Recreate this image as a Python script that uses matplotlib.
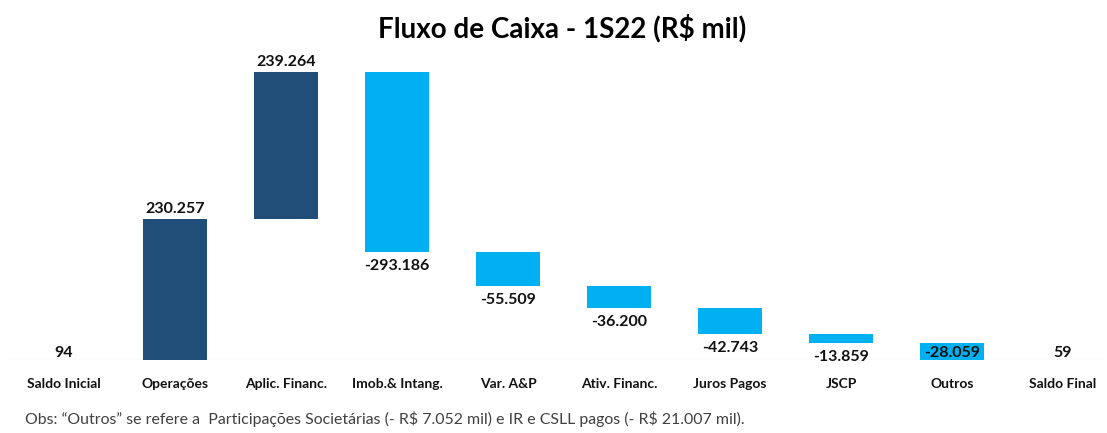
import matplotlib
matplotlib.use("Agg")
import matplotlib.pyplot as plt
import numpy as np

plt.rcParams['font.family'] = ['Lato', 'DejaVu Sans']

categorias = ['Saldo Inicial', 'Operações', 'Aplic. Financ.', 'Imob.& Intang.', 'Var. A&P',
              'Ativ. Financ.', 'Juros Pagos', 'JSCP', 'Outros', 'Saldo Final']
variacoes = [94, 230257, 239264, -293186, -55509, -36200, -42743, -13859, -28059]
saldo_final = 59

escuro = '#214E79'
claro = '#00B0F0'

def fmt(v):
    s = '{:,}'.format(abs(v)).replace(',', '.')
    return ('-' if v < 0 else '') + s

# montar as barras da cascata
bottoms = []
heights = []
cores = []
acum = 0
for i, v in enumerate(variacoes):
    if i == 0:
        bottoms.append(0)
        heights.append(v)
        cores.append(escuro)
    elif v >= 0:
        bottoms.append(acum)
        heights.append(v)
        cores.append(escuro)
    else:
        bottoms.append(acum + v)
        heights.append(-v)
        cores.append(claro)
    acum += v
bottoms.append(0)
heights.append(saldo_final)
cores.append(escuro)

fig = plt.figure(figsize=(11.07, 4.33), dpi=100)
ax = fig.add_axes([0.0, 1 - 360 / 433, 1.0, (360 - 41) / 433])

x = np.arange(len(categorias))
ax.bar(x, heights, bottom=bottoms, width=0.585, color=cores, edgecolor='none', zorder=2)

ax.set_xlim(-64 / 111, (1107 - 64) / 111)
ax.set_ylim(0, 520000)
ax.axhline(0, xmin=0.005, xmax=0.997, color='#D9D9D9', lw=0.8, zorder=1)

# rótulos de valores
vals = [variacoes[0]] + variacoes[1:] + [saldo_final]
for i, v in enumerate(vals):
    if i == 0 or i == len(vals) - 1:
        ax.annotate(fmt(v), (x[i], 0), xytext=(0, 0), textcoords='offset points',
                    ha='center', va='bottom', fontsize=11.5, fontweight='bold', color='#111111')
    elif v >= 0:
        ax.annotate(fmt(v), (x[i], bottoms[i] + heights[i]), xytext=(0, 2), textcoords='offset points',
                    ha='center', va='bottom', fontsize=11.5, fontweight='bold', color='#111111')
    else:
        y = bottoms[i]
        if y < 20000:
            ax.annotate(fmt(v), (x[i], 0), xytext=(0, 0), textcoords='offset points',
                        ha='center', va='bottom', fontsize=11.5, fontweight='bold', color='#111111', zorder=3)
        else:
            ax.annotate(fmt(v), (x[i], y), xytext=(0, -5), textcoords='offset points',
                        ha='center', va='top', fontsize=11.5, fontweight='bold', color='#111111')

ax.set_xticks(x)
ax.set_xticklabels(categorias, fontsize=10, fontweight='bold', color='#111111')
ax.tick_params(axis='x', length=0, pad=13)
ax.set_yticks([])
for s in ax.spines.values():
    s.set_visible(False)

fig.text(562 / 1107, 1 - 28 / 433, 'Fluxo de Caixa - 1S22 (R\\$ mil)', ha='center', va='center',
         fontsize=20, fontweight='bold', color='black')
fig.text(25 / 1107, 1 - 419 / 433,
         'Obs: \u201cOutros\u201d se refere a  Participações Societárias (- R\\$ 7.052 mil) e IR e CSLL pagos (- R\\$ 21.007 mil).',
         ha='left', va='center', fontsize=11.4, color='#404040')

fig.savefig('out.png', dpi=100)
